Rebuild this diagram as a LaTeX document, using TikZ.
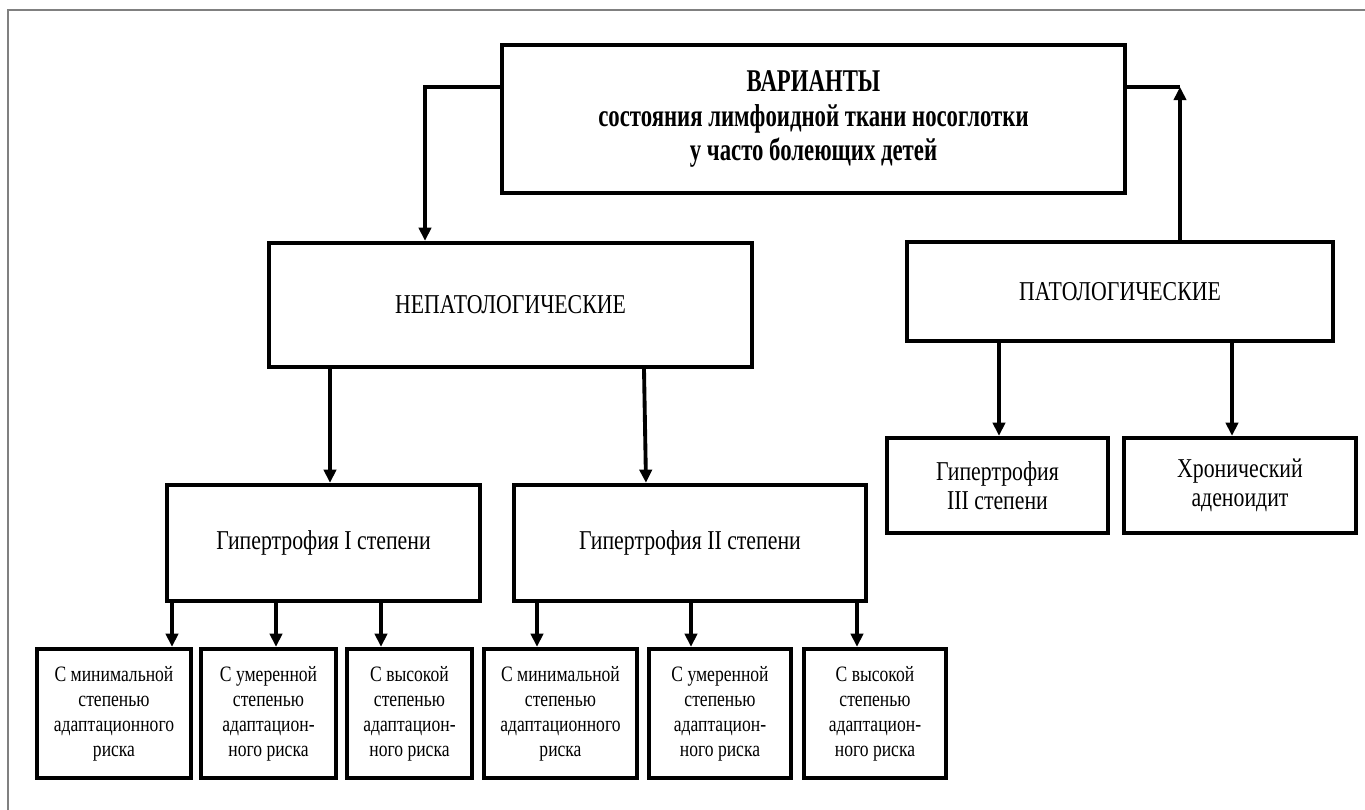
\documentclass[tikz,border=0pt]{standalone}
\usepackage{fontspec}
\setmainfont{Liberation Serif}[FakeStretch=0.8,BoldFeatures={FakeStretch=0.72}]
\usetikzlibrary{arrows.meta}
\pgfdeclarelayer{edgelayer}
\pgfdeclarelayer{nodelayer}
\pgfsetlayers{edgelayer,nodelayer,main}
\tikzstyle{none}=[inner sep=0pt]
\tikzstyle{box}=[rectangle,draw,line width=2.5pt,align=center,inner sep=2pt]
\tikzstyle{title}=[box,font=\fontsize{18}{19.5}\selectfont\bfseries]
\tikzstyle{group}=[box,font=\fontsize{15.5}{16.2}\selectfont]
\tikzstyle{leaf}=[box,font=\fontsize{12.5}{14.2}\selectfont]
\tikzstyle{arrow}=[line width=2.2pt,-{Triangle[width=7pt,length=7.5pt]}]
\tikzstyle{frame}=[draw=gray,line width=0.8pt]

\begin{document}
\begin{tikzpicture}
	\useasboundingbox (0,0) rectangle (27.3,-16.2);
	\draw[style=frame] (0.16,-16.2) -- (0.16,-0.2) -- (27.3,-0.2);
	\begin{pgfonlayer}{nodelayer}
		\node [style=title, minimum width=12.46cm, minimum height=2.96cm] (0) at (16.27, -2.38) {ВАРИАНТЫ\\состояния лимфоидной ткани носоглотки\\у часто болеющих детей};
		\node [style=group, minimum width=9.66cm, minimum height=2.48cm] (1) at (10.21, -6.10) {НЕПАТОЛОГИЧЕСКИЕ};
		\node [style=group, minimum width=8.52cm, minimum height=1.98cm] (2) at (22.40, -5.83) {ПАТОЛОГИЧЕСКИЕ};
		\node [style=group, minimum width=6.26cm, minimum height=2.32cm] (3) at (6.47, -10.86) {Гипертрофия I степени};
		\node [style=group, minimum width=7.04cm, minimum height=2.32cm] (4) at (13.80, -10.86) {Гипертрофия II степени};
		\node [style=group, minimum width=4.42cm, minimum height=1.90cm] (5) at (19.95, -9.71) {Гипертрофия\\III степени};
		\node [style=group, minimum width=4.64cm, minimum height=1.90cm] (6) at (24.80, -9.71) {Хронический\\аденоидит};
		\node [style=leaf, minimum width=3.08cm, minimum height=2.58cm] (7) at (2.28, -14.27) {С минимальной\\степенью\\адаптационного\\риска};
		\node [style=leaf, minimum width=2.70cm, minimum height=2.58cm] (8) at (5.37, -14.27) {С умеренной\\степенью\\адаптацион-\\ного риска};
		\node [style=leaf, minimum width=2.50cm, minimum height=2.58cm] (9) at (8.19, -14.27) {С высокой\\степенью\\адаптацион-\\ного риска};
		\node [style=leaf, minimum width=3.06cm, minimum height=2.58cm] (10) at (11.21, -14.27) {С минимальной\\степенью\\адаптационного\\риска};
		\node [style=leaf, minimum width=2.84cm, minimum height=2.58cm] (11) at (14.40, -14.27) {С умеренной\\степенью\\адаптацион-\\ного риска};
		\node [style=leaf, minimum width=2.84cm, minimum height=2.58cm] (12) at (17.50, -14.27) {С высокой\\степенью\\адаптацион-\\ного риска};
		\node [style=none] (20) at (8.50, -1.74) {};
		\node [style=none] (21) at (23.60, -1.74) {};
	\end{pgfonlayer}
	\begin{pgfonlayer}{edgelayer}
		\draw[style=arrow] (0.west |- 20.center) -- (20.center) -- (1.north -| 20.center);
		\draw[line width=2.2pt] (0.east |- 21.center) -- (21.center);
		\draw[style=arrow] (2.north -| 21.center) -- (21.center);
		\draw[style=arrow] (1.south -| 6.60,0) -- (3.north -| 6.60,0);
		\draw[style=arrow] (1.south -| 12.88,0) -- (4.north -| 12.92,0);
		\draw[style=arrow] (2.south -| 19.98,0) -- (5.north -| 19.98,0);
		\draw[style=arrow] (2.south -| 24.64,0) -- (6.north -| 24.64,0);
		\draw[style=arrow] (3.south -| 3.44,0) -- (7.north -| 3.44,0);
		\draw[style=arrow] (3.south -| 5.52,0) -- (8.north -| 5.52,0);
		\draw[style=arrow] (3.south -| 7.62,0) -- (9.north -| 7.62,0);
		\draw[style=arrow] (4.south -| 10.74,0) -- (10.north -| 10.74,0);
		\draw[style=arrow] (4.south -| 13.82,0) -- (11.north -| 13.82,0);
		\draw[style=arrow] (4.south -| 17.14,0) -- (12.north -| 17.14,0);
	\end{pgfonlayer}
\end{tikzpicture}
\end{document}
